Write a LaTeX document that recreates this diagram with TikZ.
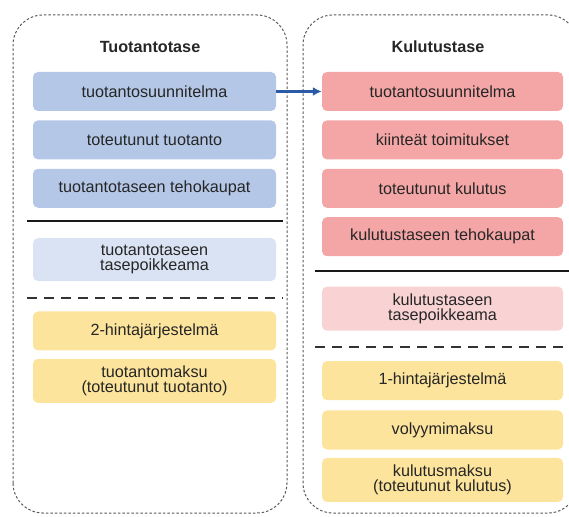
\documentclass[tikz,border=0pt]{standalone}
\usepackage{fontspec}
\setmainfont{Liberation Sans}
\usetikzlibrary{arrows.meta,positioning}

\definecolor{prodblue}{HTML}{B4C7E7}
\definecolor{prodlight}{HTML}{DAE3F3}
\definecolor{conspink}{HTML}{F4A6A6}
\definecolor{conslight}{HTML}{F9D3D3}
\definecolor{feeyellow}{HTML}{FCE49C}
\definecolor{arrowblue}{HTML}{2B5AA6}

\tikzset{
  itembox/.style={rounded corners=5pt, minimum height=39pt, inner ysep=7pt,
    align=center, text=black!85, font=\fontsize{16.2}{15}\selectfont},
  leftbox/.style={itembox, minimum width=243pt},
  rightbox/.style={itembox, minimum width=241pt},
  panel/.style={draw=black!65, line width=1pt, dash pattern=on 2.5pt off 2pt, rounded corners=30pt},
  title/.style={font=\fontsize{16.2}{15}\selectfont\bfseries, text=black!85},
  solidsep/.style={line width=1.6pt, black!90},
  dashsep/.style={line width=1.6pt, black!80, dash pattern=on 10pt off 7pt}
}

\begin{document}
\begin{tikzpicture}[x=1pt, y=1pt, node distance=9pt]
\useasboundingbox (0,0) rectangle (569,516);
\clip (0,0) rectangle (569,516);

% the two balances
\draw[panel] (13,3) rectangle (287,501);
\draw[panel] (303,3) rectangle (578,501);
\node[title] (tl) at (150,469) {Tuotantotase};
\node[title] (tr) at (438,469) {Kulutustase};

% production side
\node[leftbox, fill=prodblue] (pl1) at (154.5,424.5) {tuotantosuunnitelma};
\node[leftbox, fill=prodblue, below=of pl1] (pl2) {toteutunut tuotanto};
\node[leftbox, fill=prodblue, below=of pl2] (pl3) {tuotantotaseen tehokaupat};
\node[leftbox, fill=prodlight, below=30pt of pl3] (pl4) {tuotantotaseen\\tasepoikkeama};
\node[leftbox, fill=feeyellow, below=30pt of pl4] (pl5) {2-hintajärjestelmä};
\node[leftbox, fill=feeyellow, below=8pt of pl5] (pl6) {tuotantomaksu\\(toteutunut tuotanto)};
\draw[solidsep] (27,295) -- (283,295);
\draw[dashsep] (27,218) -- (283,218);

% consumption side
\node[rightbox, fill=conspink] (pr1) at (442.5,424.5) {tuotantosuunnitelma};
\node[rightbox, fill=conspink, below=of pr1] (pr2) {kiinteät toimitukset};
\node[rightbox, fill=conspink, below=of pr2] (pr3) {toteutunut kulutus};
\node[rightbox, fill=conspink, below=of pr3] (pr4) {kulutustaseen tehokaupat};
\node[rightbox, fill=conslight, below=30pt of pr4] (pr5) {kulutustaseen\\tasepoikkeama};
\node[rightbox, fill=feeyellow, below=30pt of pr5] (pr6) {1-hintajärjestelmä};
\node[rightbox, fill=feeyellow, below=10pt of pr6] (pr7) {volyymimaksu};
\node[rightbox, fill=feeyellow, below=8pt of pr7] (pr8) {kulutusmaksu\\(toteutunut kulutus)};
\draw[solidsep] (315,245) -- (569,245);
\draw[dashsep] (315,169) -- (569,169);

\draw[draw=arrowblue, line width=2.6pt, -{Latex[length=9pt,width=9pt]}] (pl1.east) -- (pr1.west);
\end{tikzpicture}
\end{document}
